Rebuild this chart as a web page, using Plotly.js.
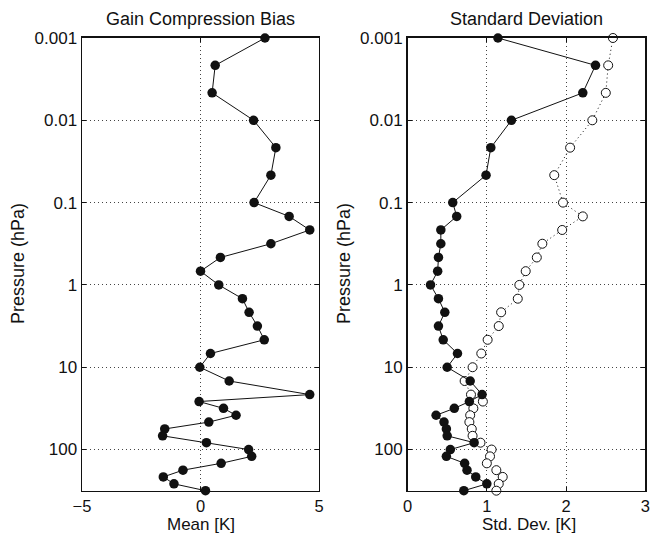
<!DOCTYPE html>
<html>
<head>
<meta charset="utf-8">
<script src="https://cdn.plot.ly/plotly-3.0.1.min.js"></script>
<style>html,body{margin:0;padding:0;background:#fff;}#chart{width:651px;height:535px;}</style>
</head>
<body>
<div id="chart"></div>
<script>
// Pressure levels (hPa)
var pressure = [0.001, 0.00215, 0.00464, 0.01, 0.0215, 0.0464, 0.1, 0.147, 0.215, 0.316, 0.464, 0.681,
  1, 1.47, 2.15, 3.16, 4.64, 6.81, 10, 14.7, 21.5, 26.1, 31.6, 38.3, 46.4, 56.2, 68.1, 82.5,
  100, 121, 147, 178, 215, 261, 316];

// Gain compression bias, mean [K]
var meanBias = [2.72, 0.62, 0.49, 2.24, 3.18, 2.97, 2.26, 3.74, 4.61, 2.97, 0.84, 0.0,
  0.77, 1.77, 2.05, 2.40, 2.69, 0.42, -0.03, 1.21, 4.61, -0.06, 0.97, 1.50, 0.35, -1.51, -1.60, 0.25,
  2.03, 2.16, 0.87, -0.74, -1.57, -1.12, 0.21];

// Standard deviation [K], filled markers
var stdFilled = [1.14, 2.37, 2.21, 1.31, 1.05, 0.99, 0.57, 0.62, 0.42, 0.42, 0.39, 0.38,
  0.29, 0.39, 0.47, 0.39, 0.45, 0.63, 0.50, 0.79, 0.94, 0.78, 0.59, 0.36, 0.46, 0.49, 0.50, 0.84,
  0.54, 0.49, 0.72, 0.75, 0.86, 1.00, 0.71];

// Standard deviation [K], open markers
var stdOpen = [2.59, 2.53, 2.50, 2.33, 2.05, 1.85, 1.96, 2.21, 1.95, 1.70, 1.63, 1.49,
  1.41, 1.39, 1.18, 1.15, 1.01, 0.93, 0.82, 0.72, 0.80, 0.95, 0.83, 0.79, 0.78, 0.81, 0.82, 0.92,
  1.06, 1.04, 1.00, 1.12, 1.20, 1.15, 1.12];

var yTickVals = [0.001, 0.01, 0.1, 1, 10, 100];
var yTickText = ['0.001', '0.01', '0.1', '1', '10', '100'];

var FONT = 'Liberation Sans, Arial, Helvetica, sans-serif';
var INK = '#111';
var FS = 18;   // titles
var XFS = 17;  // x-axis titles
var TFS = 16.5;  // tick labels

var traces = [
  {x: meanBias, y: pressure, xaxis: 'x', yaxis: 'y', type: 'scatter', mode: 'lines+markers',
   line: {color: INK, width: 1}, marker: {color: INK, size: 9.5}, cliponaxis: false, showlegend: false},
  {x: stdOpen, y: pressure, xaxis: 'x2', yaxis: 'y2', type: 'scatter', mode: 'lines+markers',
   line: {color: INK, width: 1, dash: '1px,3px'}, marker: {color: '#fff', size: 9, line: {color: INK, width: 1}},
   cliponaxis: false, showlegend: false},
  {x: stdFilled, y: pressure, xaxis: 'x2', yaxis: 'y2', type: 'scatter', mode: 'lines+markers',
   line: {color: INK, width: 1}, marker: {color: INK, size: 9.5}, cliponaxis: false, showlegend: false}
];

function yAxis(anchor) {
  return {
    type: 'log', range: [Math.log10(316.2), -3], autorange: false,
    domain: [0.0828, 0.929], anchor: anchor,
    tickvals: yTickVals, ticktext: yTickText,
    ticks: 'inside', ticklen: 4, tickcolor: INK, mirror: 'ticks',
    showline: true, linecolor: INK, linewidth: 1.5,
    showgrid: true, gridcolor: '#444', gridwidth: 1, griddash: '1px,3px',
    zeroline: false, tickfont: {family: FONT, size: 17, color: INK}
  };
}
function xAxis(domain, range, dtick, anchor) {
  return {
    domain: domain, range: range, autorange: false, dtick: dtick, tick0: 0, anchor: anchor,
    ticks: 'inside', ticklen: 4, tickcolor: INK, mirror: 'ticks',
    showline: true, linecolor: INK, linewidth: 1.5,
    showgrid: true, gridcolor: '#444', gridwidth: 1, griddash: '1px,3px',
    zeroline: false, tickfont: {family: FONT, size: TFS, color: INK}
  };
}

var layout = {
  width: 651, height: 535,
  margin: {l: 0, r: 0, t: 0, b: 0},
  paper_bgcolor: '#fff', plot_bgcolor: '#fff',
  font: {family: FONT, size: FS, color: INK},
  xaxis: xAxis([0.126, 0.490], [-5, 5], 5, 'y'),
  yaxis: yAxis('x'),
  xaxis2: xAxis([0.626, 0.9915], [0, 3], 1, 'y2'),
  yaxis2: yAxis('x2'),
  annotations: [
    {text: 'Gain Compression Bias', xref: 'paper', yref: 'paper', x: 0.308, y: 1 - 19/535,
     xanchor: 'center', yanchor: 'middle', showarrow: false, font: {family: FONT, size: FS, color: INK}},
    {text: 'Standard Deviation', xref: 'paper', yref: 'paper', x: 0.809, y: 1 - 19/535,
     xanchor: 'center', yanchor: 'middle', showarrow: false, font: {family: FONT, size: FS, color: INK}},
    {text: 'Mean [K]', xref: 'paper', yref: 'paper', x: 201/651, y: 0, borderpad: 0,
     xanchor: 'center', yanchor: 'bottom', showarrow: false, font: {family: FONT, size: XFS, color: INK}},
    {text: 'Std. Dev. [K]', xref: 'paper', yref: 'paper', x: 528.5/651, y: 0, borderpad: 0,
     xanchor: 'center', yanchor: 'bottom', showarrow: false, font: {family: FONT, size: XFS, color: INK}},
    {text: 'Pressure (hPa)', xref: 'paper', yref: 'paper', x: 18/651, y: 1 - 264/535, textangle: -90,
     xanchor: 'center', yanchor: 'middle', showarrow: false, font: {family: FONT, size: FS, color: INK}},
    {text: 'Pressure (hPa)', xref: 'paper', yref: 'paper', x: 344/651, y: 1 - 264/535, textangle: -90,
     xanchor: 'center', yanchor: 'middle', showarrow: false, font: {family: FONT, size: FS, color: INK}}
  ]
};

Plotly.newPlot('chart', traces, layout, {staticPlot: true, displayModeBar: false});
</script>
</body>
</html>
